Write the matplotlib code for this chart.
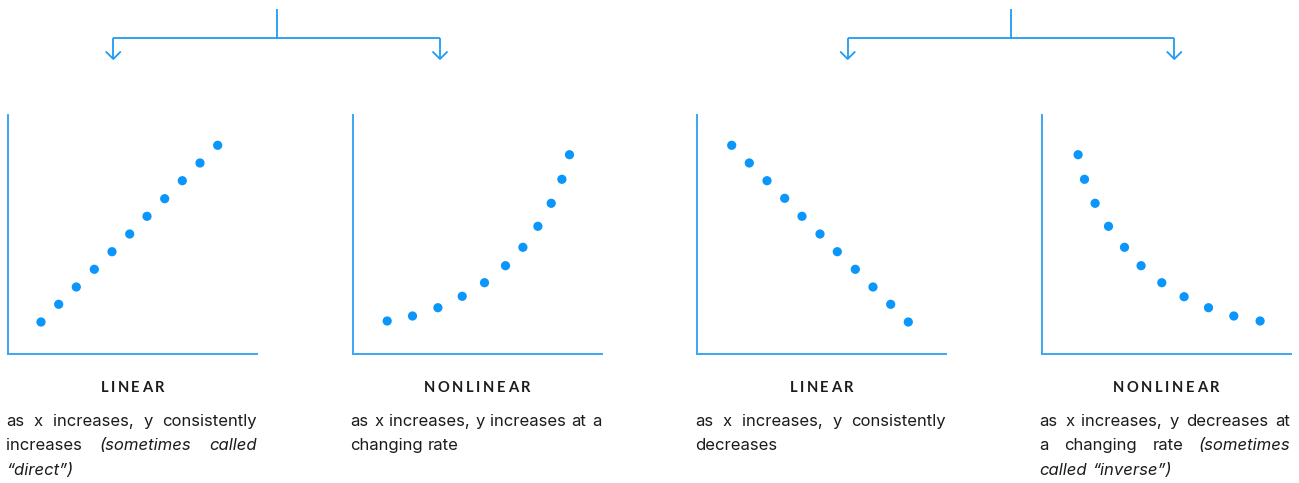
import matplotlib
matplotlib.use("Agg")
import matplotlib.pyplot as plt

# scatter values (units ~ pixels inside each panel)
lin_up_x = [33, 50.7, 68.3, 86.3, 104, 121.7, 139, 156.7, 174.3, 192, 209.7]
lin_up_y = [32, 49.7, 67, 84.7, 102.3, 120, 137.7, 155.3, 173.3, 191, 208.7]
curve_up_x = [34.7, 60, 85.4, 109.7, 132, 153, 170.4, 185.4, 198.7, 209.4, 217]
curve_up_y = [33, 38, 46.3, 57.7, 71.3, 88.3, 106.7, 127.7, 150.7, 174.7, 199.3]
lin_down_x = [34.7, 52.3, 70, 87.7, 105, 123, 140.3, 158.3, 176, 193.7, 211.3]
lin_down_y = [208.7, 191, 173.3, 155.7, 137.7, 120, 102.3, 84.7, 67, 49.7, 32]
curve_down_x = [36.6, 43, 53.6, 67, 83, 99.6, 120.3, 142.6, 167, 192.3, 218.6]
curve_down_y = [199.3, 174.7, 150.7, 127.7, 106.7, 88.3, 71.3, 57.3, 46.3, 38, 33]

series = [(lin_up_x, lin_up_y), (curve_up_x, curve_up_y),
          (lin_down_x, lin_down_y), (curve_down_x, curve_down_y)]

titles = ["LINEAR", "NONLINEAR", "LINEAR", "NONLINEAR"]

# each line: (plain part, italic part)
notes = [
    [("as x increases, y consistently", ""),
     ("increases", "(sometimes called"),
     ("", "\u201cdirect\u201d)")],
    [("as x increases, y increases at a", ""),
     ("changing rate", "")],
    [("as x increases, y consistently", ""),
     ("decreases", "")],
    [("as x increases, y decreases at", ""),
     ("a changing rate", "(sometimes"),
     ("", "called \u201cinverse\u201d)")],
]

W, H = 1299, 483
DOT = "#0a96fb"
SPINE = "#3aa6f5"
ARROW = "#1f9cf2"
INK = "#1c1c1c"
BODY_FONT = ["Inter", "DejaVu Sans"]
TITLE_FONT = ["Lato", "DejaVu Sans"]

panel_left = [8, 352.5, 697, 1041.5]
panel_w, panel_h = 249, 239
panel_bottom = 354

fig = plt.figure(figsize=(W / 100, H / 100), dpi=100)
fig.patch.set_facecolor("white")

# overlay in pixel coords for arrows and text
ov = fig.add_axes([0, 0, 1, 1])
ov.set_xlim(0, W)
ov.set_ylim(H, 0)
ov.axis("off")

for left, (xs, ys) in zip(panel_left, series):
    ax = fig.add_axes([left / W, (H - panel_bottom) / H, panel_w / W, panel_h / H])
    ax.scatter(xs, ys, s=44, color=DOT, edgecolors="none", zorder=3, clip_on=False)
    ax.set_xlim(0, panel_w)
    ax.set_ylim(0, panel_h)
    for side in ["top", "right"]:
        ax.spines[side].set_visible(False)
    for side in ["left", "bottom"]:
        ax.spines[side].set_color(SPINE)
        ax.spines[side].set_linewidth(1.4)
    ax.set_xticks([])
    ax.set_yticks([])
    ax.patch.set_alpha(0)

# branching arrows
def branch(xc, xl, xr):
    kw = dict(color=ARROW, lw=1.3, solid_capstyle="butt")
    ov.plot([xc, xc], [9, 38], **kw)
    ov.plot([xl, xr], [38, 38], **kw)
    for x in (xl, xr):
        ov.plot([x, x], [38, 59], **kw)
        ov.plot([x - 7.5, x, x + 7.5], [51.5, 59, 51.5], **kw)

branch(276.7, 113.3, 440)
branch(1011, 847.7, 1174.3)

renderer = fig.canvas.get_renderer()

def text_width(s, **kw):
    t = ov.text(0, 0, s, **kw)
    w = t.get_window_extent(renderer).width
    t.remove()
    return w

body_kw = dict(family=BODY_FONT, fontsize=12, color=INK)
title_kw = dict(family=TITLE_FONT, fontsize=10.6, color=INK, fontweight="bold")

space_w = text_width("x x", **body_kw) - text_width("xx", **body_kw)
line_gap = 24.4
text_w = 251

for left, title, lines in zip(panel_left, titles, notes):
    # tracked-out title, letter by letter
    track = 2.5
    widths = [text_width(c, **title_kw) for c in title]
    total = sum(widths) + track * (len(title) - 1)
    x = left + panel_w / 2 - total / 2
    for c, w in zip(title, widths):
        ov.text(x, 392.3, c, ha="left", va="baseline", **title_kw)
        x += w + track

    x0 = left - 2
    for i, (plain, ital) in enumerate(lines):
        words = [(w, "normal") for w in plain.split()] + \
                [(w, "italic") for w in ital.split()]
        ws = [text_width(w, style=st, **body_kw) for w, st in words]
        last = i == len(lines) - 1
        if not last and len(words) > 1:
            gap = (text_w - sum(ws)) / (len(words) - 1)
        else:
            gap = space_w
        x = x0
        y = 426 + i * line_gap
        for (w, st), ww in zip(words, ws):
            ov.text(x, y, w, ha="left", va="baseline", style=st, **body_kw)
            x += ww + gap

fig.savefig("out.png", dpi=100, facecolor="white")
